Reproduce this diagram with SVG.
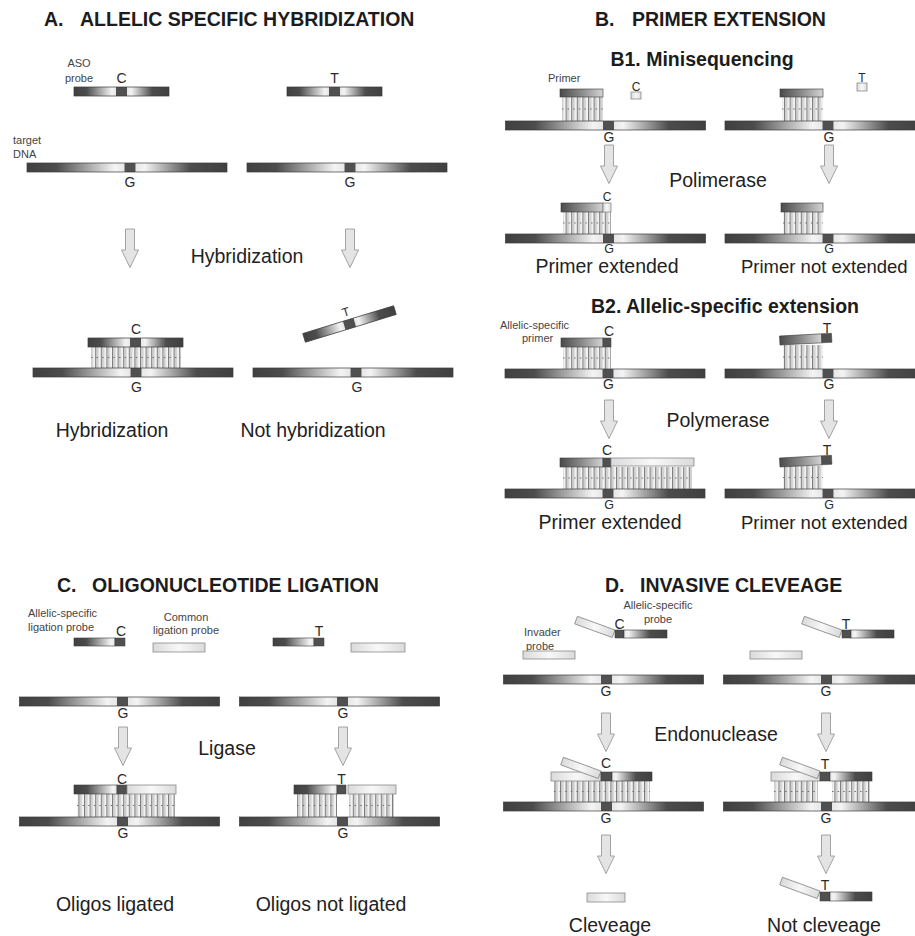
<svg xmlns="http://www.w3.org/2000/svg" width="915" height="936" viewBox="0 0 915 936">
<style>
.title{font-family:"Liberation Sans",Arial,sans-serif;font-weight:bold;font-size:19.5px;fill:#1c1c1c}
.lbl{font-family:"Liberation Sans",Arial,sans-serif;font-size:19.5px;fill:#222}
.lbs{font-family:"Liberation Sans",Arial,sans-serif;font-size:18.5px;fill:#222}
.nt{font-family:"Liberation Sans",Arial,sans-serif;font-size:14px;fill:#2a2a2a;text-anchor:middle}
.ntg{font-family:"Liberation Sans",Arial,sans-serif;font-size:12.5px;fill:#2a2a2a;text-anchor:middle}
.nts{font-family:"Liberation Sans",Arial,sans-serif;font-size:12px;fill:#2a2a2a;text-anchor:middle}
.sm{font-family:"Liberation Sans",Arial,sans-serif;font-size:11px;fill:#444}
.mid{text-anchor:middle}
.ol{fill:none;stroke:#3a3a3a;stroke-width:0.7}
.blk{fill:#505050;stroke:#3a3a3a;stroke-width:0.5}
.lt{fill:url(#glt);stroke:#8a8a8a;stroke-width:0.8}
.dk{fill:url(#gl);stroke:#3a3a3a;stroke-width:0.6}
.dr{fill:url(#gr);stroke:#3a3a3a;stroke-width:0.6}
.pr{fill:url(#gp);stroke:#3a3a3a;stroke-width:0.6}
.bond{fill:url(#bp)}
.hb{stroke:#666;stroke-width:0.9;stroke-dasharray:1.5 4.1}
</style>
<defs>
<linearGradient id="gl" x1="0" y1="0" x2="1" y2="0">
<stop offset="0" stop-color="#404040"/><stop offset="0.3" stop-color="#4c4c4c"/><stop offset="0.9" stop-color="#f4f4f4"/><stop offset="1" stop-color="#e6e6e6"/>
</linearGradient>
<linearGradient id="gr" x1="0" y1="0" x2="1" y2="0">
<stop offset="0" stop-color="#e6e6e6"/><stop offset="0.1" stop-color="#f4f4f4"/><stop offset="0.6" stop-color="#4c4c4c"/><stop offset="1" stop-color="#404040"/>
</linearGradient>
<linearGradient id="gp" x1="0" y1="0" x2="1" y2="0">
<stop offset="0" stop-color="#4a4a4a"/><stop offset="0.5" stop-color="#8a8a8a"/><stop offset="1" stop-color="#d4d4d4"/>
</linearGradient>
<linearGradient id="glt" x1="0" y1="0" x2="1" y2="0">
<stop offset="0" stop-color="#dadada"/><stop offset="0.5" stop-color="#f8f8f8"/><stop offset="1" stop-color="#dadada"/>
</linearGradient>
<pattern id="bp" patternUnits="userSpaceOnUse" width="5.6" height="10">
<rect width="5.6" height="10" fill="#f2f2f2"/><rect x="0" width="1.2" height="10" fill="#7c7c7c"/><rect x="1.2" width="2.2" height="10" fill="#cfcfcf"/>
</pattern>
<g id="tgt">
<rect x="0" y="0" width="97.5" height="9" fill="url(#gl)"/>
<rect x="108.5" y="0" width="91.5" height="9" fill="url(#gr)"/>
<rect x="97.5" y="0" width="11" height="9" fill="#505050"/>
<rect x="0" y="0" width="200" height="9" class="ol"/>
</g>
<g id="prb">
<rect x="0" y="0" width="42" height="9" fill="url(#gl)"/>
<rect x="53" y="0" width="42" height="9" fill="url(#gr)"/>
<rect x="42" y="0" width="11" height="9" fill="#505050"/>
<rect x="0" y="0" width="95" height="9" class="ol"/>
</g>
<rect id="flap" x="-40" y="0" width="40" height="8" class="lt"/>
<path id="arr" d="M-4.5 0H4.5V21H8.5L0 38.5L-8.5 21H-4.5Z" fill="#e4e4e4" stroke="#9a9a9a" stroke-width="0.9"/>
</defs>
<rect width="915" height="936" fill="#ffffff"/>

<!-- Titles -->
<g id="titles">
<text class="title" x="44" y="26">A.</text><text class="title" x="80" y="26">ALLELIC SPECIFIC HYBRIDIZATION</text>
<text class="title" x="595" y="26">B.</text><text class="title" x="632" y="26">PRIMER EXTENSION</text>
<text class="title mid" x="702" y="66">B1. Minisequencing</text>
<text class="title mid" x="725" y="313">B2. Allelic-specific extension</text>
<text class="title" x="57" y="592">C.</text><text class="title" x="92" y="592">OLIGONUCLEOTIDE LIGATION</text>
<text class="title" x="605" y="592">D.</text><text class="title" x="640" y="592">INVASIVE CLEVEAGE</text>
</g>

<!-- Section A -->
<g id="a-probe-c">
<text class="sm mid" x="79" y="67">ASO</text><text class="sm mid" x="79" y="82">probe</text>
<use href="#prb" x="74" y="87"/>
<text class="nt" x="121.5" y="83">C</text>
</g>
<g id="a-probe-t">
<use href="#prb" x="287" y="87"/>
<text class="nt" x="334.5" y="83">T</text>
</g>
<g id="a-target-1">
<text class="sm" x="13" y="144">target</text><text class="sm" x="13" y="158">DNA</text>
<use href="#tgt" x="27" y="163"/>
<text class="nt" x="130" y="187">G</text>
</g>
<g id="a-target-2">
<use href="#tgt" x="247" y="163"/>
<text class="nt" x="350" y="187">G</text>
</g>
<g id="a-step"><text class="lbl mid" x="247" y="263">Hybridization</text></g>
<g id="a-result-1">
<rect class="bond" x="91" y="347" width="90" height="21"/>
<line class="hb" x1="91" y1="357.5" x2="181" y2="357.5"/>
<use href="#tgt" x="33" y="368"/>
<use href="#prb" x="88" y="338"/>
<text class="nt" x="136" y="334">C</text>
<text class="nt" x="136.5" y="392">G</text>
<text class="lbl mid" x="112" y="437">Hybridization</text>
</g>
<g id="a-result-2">
<use href="#tgt" x="253" y="368"/>
<use href="#prb" transform="translate(349.5 324) rotate(-17) translate(-47.5 -4.5)"/>
<text class="nts" transform="translate(347 316) rotate(-17)">T</text>
<text class="nt" x="357" y="392">G</text>
<text class="lbl mid" x="313" y="437">Not hybridization</text>
</g>

<!-- Section B1 -->
<g id="b1-left">
<text class="sm" x="548" y="82">Primer</text>
<rect class="bond" x="562" y="97" width="41" height="24"/>
<line class="hb" x1="562" y1="109" x2="603" y2="109"/>
<rect class="pr" x="560" y="89" width="43" height="8"/>
<use href="#tgt" x="505.5" y="121"/>
<text class="nt" x="609" y="142">G</text>
<text class="nts" x="636" y="91">C</text>
<rect class="lt" x="631" y="92" width="10" height="7"/>
</g>
<g id="b1-right">
<rect class="bond" x="782" y="97" width="41" height="24"/>
<line class="hb" x1="782" y1="109" x2="823" y2="109"/>
<rect class="pr" x="780" y="89" width="43" height="8"/>
<use href="#tgt" x="725" y="121"/>
<text class="nt" x="829" y="142">G</text>
<text class="nts" x="862" y="82">T</text>
<rect class="lt" x="857" y="83" width="10" height="8"/>
</g>
<g id="b1-step"><text class="lbl mid" x="718" y="187">Polimerase</text></g>
<g id="b1-result-left">
<rect class="bond" x="563" y="212" width="48" height="22"/>
<line class="hb" x1="563" y1="223" x2="611" y2="223"/>
<rect class="pr" x="561" y="203" width="42" height="9"/>
<rect class="lt" x="603" y="203" width="8" height="9"/>
<text class="nts" x="607" y="201">C</text>
<use href="#tgt" x="505.5" y="234"/>
<text class="ntg" x="609" y="253">G</text>
<text class="lbl mid" x="607" y="273">Primer extended</text>
</g>
<g id="b1-result-right">
<rect class="bond" x="783" y="212" width="40" height="22"/>
<line class="hb" x1="783" y1="223" x2="823" y2="223"/>
<rect class="pr" x="781" y="203" width="42" height="9"/>
<use href="#tgt" x="725" y="234"/>
<text class="ntg" x="829" y="253">G</text>
<text class="lbs" x="741" y="273">Primer not extended</text>
</g>

<!-- Section B2 -->
<g id="b2-left">
<text class="sm" x="500" y="329">Allelic-specific</text><text class="sm" x="522" y="342">primer</text>
<rect class="bond" x="563" y="347" width="48" height="22"/>
<line class="hb" x1="563" y1="358" x2="611" y2="358"/>
<rect class="pr" x="561" y="338" width="42" height="9"/>
<rect class="blk" x="603" y="338" width="8" height="9"/>
<text class="nt" x="609" y="336">C</text>
<use href="#tgt" x="505" y="369"/>
<text class="nt" x="608.5" y="389">G</text>
</g>
<g id="b2-right">
<rect class="bond" x="783" y="345" width="40" height="24"/>
<line class="hb" x1="783" y1="357" x2="823" y2="357"/>
<g transform="rotate(-3 780 345)">
<rect class="pr" x="780" y="336" width="42" height="9"/>
<rect class="blk" x="822" y="336" width="10" height="9"/>
</g>
<text class="nt" x="827" y="333">T</text>
<use href="#tgt" x="725" y="369"/>
<text class="nt" x="829" y="389">G</text>
</g>
<g id="b2-step"><text class="lbl mid" x="718" y="427">Polymerase</text></g>
<g id="b2-result-left">
<rect class="bond" x="563" y="467" width="129" height="22"/>
<line class="hb" x1="563" y1="478" x2="692" y2="478"/>
<rect class="pr" x="560" y="458" width="43" height="9"/>
<rect class="blk" x="603" y="458" width="8" height="9"/>
<rect class="lt" x="611" y="458" width="83" height="8"/>
<text class="nt" x="607" y="455">C</text>
<use href="#tgt" x="505" y="489"/>
<text class="ntg" x="609" y="509">G</text>
<text class="lbl mid" x="610" y="529">Primer extended</text>
</g>
<g id="b2-result-right">
<rect class="bond" x="783" y="466" width="40" height="23"/>
<line class="hb" x1="783" y1="477.5" x2="823" y2="477.5"/>
<g transform="rotate(-3 780 467)">
<rect class="pr" x="780" y="458" width="42" height="9"/>
<rect class="blk" x="822" y="458" width="10" height="9"/>
</g>
<text class="nt" x="827" y="455">T</text>
<use href="#tgt" x="725" y="489"/>
<text class="ntg" x="829" y="509">G</text>
<text class="lbs" x="741" y="529">Primer not extended</text>
</g>

<!-- Section C -->
<g id="c-probes-left">
<text class="sm" x="28" y="617">Allelic-specific</text><text class="sm" x="28" y="631">ligation probe</text>
<rect class="dk" x="74" y="638" width="41" height="8"/>
<rect class="blk" x="115" y="638" width="10" height="8"/>
<text class="nt" x="121" y="636">C</text>
<text class="sm mid" x="186" y="621">Common</text><text class="sm mid" x="186" y="634">ligation probe</text>
<rect class="lt" x="153" y="643" width="52" height="9"/>
</g>
<g id="c-probes-right">
<rect class="dk" x="273" y="638" width="41" height="8"/>
<rect class="blk" x="314" y="638" width="10" height="8"/>
<text class="nt" x="319" y="636">T</text>
<rect class="lt" x="351" y="643" width="54" height="9"/>
</g>
<g id="c-target-1">
<use href="#tgt" x="19.5" y="697"/>
<text class="nt" x="123" y="718">G</text>
</g>
<g id="c-target-2">
<use href="#tgt" x="239.5" y="697"/>
<text class="nt" x="343" y="718">G</text>
</g>
<g id="c-step"><text class="lbl mid" x="227" y="755">Ligase</text></g>
<g id="c-result-1">
<rect class="bond" x="77" y="794" width="98" height="23"/>
<line class="hb" x1="77" y1="805.5" x2="175" y2="805.5"/>
<rect class="dk" x="74" y="785" width="43" height="9"/>
<rect class="blk" x="117" y="785" width="10" height="9"/>
<rect class="lt" x="127" y="785" width="49" height="9"/>
<text class="nt" x="122" y="784">C</text>
<use href="#tgt" x="19.5" y="817"/>
<text class="nt" x="123" y="838">G</text>
<text class="lbl mid" x="115" y="911">Oligos ligated</text>
</g>
<g id="c-result-2">
<rect class="bond" x="297" y="794" width="40" height="23"/>
<line class="hb" x1="297" y1="805.5" x2="337" y2="805.5"/>
<rect class="bond" x="349" y="794" width="45" height="23"/>
<line class="hb" x1="349" y1="805.5" x2="394" y2="805.5"/>
<rect class="dk" x="294" y="785" width="43" height="9"/>
<rect class="blk" x="337" y="785" width="9" height="9"/>
<rect class="lt" x="348" y="785" width="48" height="9"/>
<text class="nt" x="341.5" y="784">T</text>
<use href="#tgt" x="239.5" y="817"/>
<text class="nt" x="343" y="838">G</text>
<text class="lbl mid" x="331" y="911">Oligos not ligated</text>
</g>

<!-- Section D -->
<g id="d-probes-left">
<text class="sm mid" x="658" y="609">Allelic-specific</text><text class="sm mid" x="658" y="623">probe</text>
<text class="sm" x="524" y="636">Invader</text><text class="sm" x="526" y="650">probe</text>
<rect class="lt" x="523" y="651" width="52" height="8"/>
<use href="#flap" transform="translate(615 630) rotate(20)"/>
<rect class="blk" x="615" y="630" width="9" height="8"/>
<rect class="dr" x="624" y="630" width="43" height="8"/>
<text class="nt" x="619.5" y="629">C</text>
</g>
<g id="d-probes-right">
<rect class="lt" x="750" y="651" width="52" height="8"/>
<use href="#flap" transform="translate(842 630) rotate(20)"/>
<rect class="blk" x="842" y="630" width="9" height="8"/>
<rect class="dr" x="851" y="630" width="43" height="8"/>
<text class="nt" x="846" y="629">T</text>
</g>
<g id="d-target-1">
<use href="#tgt" x="503.5" y="675"/>
<text class="nt" x="606" y="696">G</text>
</g>
<g id="d-target-2">
<use href="#tgt" x="723.5" y="675"/>
<text class="nt" x="826" y="696">G</text>
</g>
<g id="d-step"><text class="lbl mid" x="716" y="741">Endonuclease</text></g>
<g id="d-result-1">
<rect class="bond" x="554" y="781" width="96" height="21"/>
<line class="hb" x1="554" y1="791.5" x2="650" y2="791.5"/>
<rect class="lt" x="551" y="772" width="50" height="9"/>
<use href="#flap" transform="translate(601 771) rotate(20)"/>
<rect class="blk" x="601" y="772" width="11" height="9"/>
<rect class="dr" x="612" y="772" width="40" height="9"/>
<text class="nt" x="606" y="768">C</text>
<use href="#tgt" x="503.5" y="802"/>
<text class="nt" x="606" y="823">G</text>
</g>
<g id="d-result-2">
<rect class="bond" x="774" y="781" width="44" height="21"/>
<line class="hb" x1="774" y1="791.5" x2="818" y2="791.5"/>
<rect class="bond" x="832" y="781" width="38" height="21"/>
<line class="hb" x1="832" y1="791.5" x2="870" y2="791.5"/>
<rect class="lt" x="771" y="772" width="49" height="9"/>
<use href="#flap" transform="translate(820 771) rotate(20)"/>
<rect class="blk" x="820" y="772" width="10" height="9"/>
<rect class="dr" x="830" y="772" width="42" height="9"/>
<text class="nt" x="825" y="769">T</text>
<use href="#tgt" x="723.5" y="802"/>
<text class="nt" x="826" y="823">G</text>
</g>
<g id="d-product-1">
<rect class="lt" x="587" y="893" width="38" height="9"/>
<text class="lbl mid" x="610" y="932">Cleveage</text>
</g>
<g id="d-product-2">
<use href="#flap" transform="translate(820 891) rotate(20)"/>
<rect class="blk" x="820" y="892" width="10" height="9"/>
<rect class="dr" x="830" y="892" width="42" height="9"/>
<text class="nt" x="825" y="890">T</text>
<text class="lbl mid" x="824" y="932">Not cleveage</text>
</g>

<!-- Connectors -->
<g id="connectors">
<use href="#arr" x="130" y="229"/>
<use href="#arr" x="350" y="229"/>
<use href="#arr" x="609" y="145"/>
<use href="#arr" x="829" y="145"/>
<use href="#arr" x="609" y="400"/>
<use href="#arr" x="829" y="400"/>
<use href="#arr" x="123" y="727"/>
<use href="#arr" x="343" y="727"/>
<use href="#arr" x="606" y="713"/>
<use href="#arr" x="826" y="713"/>
<use href="#arr" x="606" y="835"/>
<use href="#arr" x="826" y="835"/>
</g>
</svg>
